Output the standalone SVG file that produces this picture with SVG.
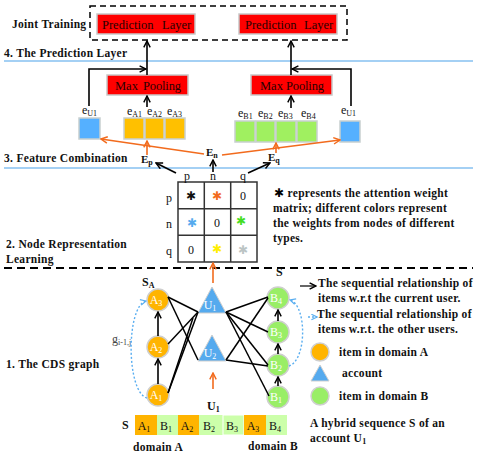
<svg xmlns="http://www.w3.org/2000/svg" width="479" height="455" viewBox="0 0 479 455">
<style>
text{font-family:"Liberation Serif","Times New Roman",serif;fill:#111}
.b{font-weight:bold;font-size:11px}
.h{font-weight:bold;font-size:11.5px;letter-spacing:0.3px}
.r{font-size:12px}
.p{font-size:12.5px;fill:#2a0000}
.w{font-size:12px;fill:#fff}
.sub{font-size:8px}
.red{fill:#FF0000;stroke:#C8C8C8;stroke-width:1.5}
.blk{stroke:#000;stroke-width:1.6;fill:none}
.org{stroke:#F26B1D;stroke-width:1.6;fill:none}
.dot{stroke:#5AAEF0;stroke-width:1.4;fill:none;stroke-dasharray:2,2}
.ca{fill:#FFB400;stroke:#CFCFCF;stroke-width:1.5}
.cb{fill:#99EE66;stroke:#CFCFCF;stroke-width:1.5}
.tu{fill:#55AAEE;stroke:#CFCFCF;stroke-width:1}
.ce{stroke:#C8D0D0;stroke-width:1.5}
.sep{stroke:#86C0F0;stroke-width:1.5}
.ast{font-family:"DejaVu Sans",sans-serif;font-size:12px}
</style>
<defs>
<marker id="ak" viewBox="0 0 10 10" refX="9" refY="5" markerWidth="8" markerHeight="8" markerUnits="userSpaceOnUse" orient="auto"><path d="M1,1 L9,5 L1,9" fill="none" stroke="#000" stroke-width="1.8"/></marker>
<marker id="ao" viewBox="0 0 10 10" refX="9" refY="5" markerWidth="8" markerHeight="8" markerUnits="userSpaceOnUse" orient="auto"><path d="M1,1 L9,5 L1,9" fill="none" stroke="#F26B1D" stroke-width="1.8"/></marker>
<marker id="ab" viewBox="0 0 10 10" refX="9" refY="5" markerWidth="7" markerHeight="7" markerUnits="userSpaceOnUse" orient="auto"><path d="M1,1 L9,5 L1,9" fill="none" stroke="#5AAEF0" stroke-width="1.6"/></marker>
</defs>

<!-- section labels and separators -->
<g id="sections">
<text class="h" x="12" y="28">Joint Training</text>
<text class="h" x="4" y="57">4. The Prediction Layer</text>
<line class="sep" x1="4" y1="61" x2="473" y2="61"/>
<text class="h" x="4" y="162">3. Feature Combination</text>
<line class="sep" x1="4" y1="168" x2="473" y2="168"/>
<text class="h" x="6" y="248">2. Node Representation</text>
<text class="h" x="6" y="263">Learning</text>
<line x1="4" y1="268" x2="473" y2="268" stroke="#000" stroke-width="2" stroke-dasharray="8,5"/>
<text class="h" x="6" y="368">1. The CDS graph</text>
</g>

<!-- joint training -->
<g id="joint">
<rect x="90" y="6" width="257" height="34" fill="none" stroke="#000" stroke-width="1.5" stroke-dasharray="6,4"/>
</g>
<g id="pred1"><rect class="red" x="97" y="14" width="98" height="20"/><text class="p" x="102" y="29">Prediction</text><text class="p" x="162" y="29">Layer</text></g>
<g id="pred2"><rect class="red" x="239" y="14" width="98" height="20"/><text class="p" x="245" y="29">Prediction</text><text class="p" x="304" y="29">Layer</text></g>

<g id="pool1"><rect class="red" x="107" y="75" width="81" height="20"/><text class="p" x="115" y="90">Max</text><text class="p" x="143" y="90" textLength="38" lengthAdjust="spacing">Pooling</text></g>
<g id="pool2"><rect class="red" x="251" y="75" width="81" height="20"/><text class="p" x="260" y="90">Max</text><text class="p" x="286" y="90" textLength="38" lengthAdjust="spacing">Pooling</text></g>

<!-- embeddings -->
<g id="eU1L"><rect class="ce" x="79" y="118" width="21" height="21" fill="#55B0FF"/><text class="r" x="82" y="114">e<tspan class="sub" dy="2">U1</tspan></text></g>
<g id="eA">
<rect class="ce" x="124" y="118" width="20" height="21" fill="#FFC000"/>
<rect class="ce" x="145" y="118" width="19" height="21" fill="#FFC000"/>
<rect class="ce" x="165" y="118" width="20" height="21" fill="#FFC000"/>
<text class="r" x="127" y="115">e<tspan class="sub" dy="2">A1</tspan></text>
<text class="r" x="147" y="115">e<tspan class="sub" dy="2">A2</tspan></text>
<text class="r" x="167" y="115">e<tspan class="sub" dy="2">A3</tspan></text>
</g>
<g id="eB">
<rect class="ce" x="235" y="121" width="20" height="21" fill="#A0F060"/>
<rect class="ce" x="256" y="121" width="19" height="21" fill="#A0F060"/>
<rect class="ce" x="276" y="121" width="20" height="21" fill="#A0F060"/>
<rect class="ce" x="297" y="121" width="20" height="21" fill="#A0F060"/>
<text class="r" x="238" y="117">e<tspan class="sub" dy="2">B1</tspan></text>
<text class="r" x="258" y="117">e<tspan class="sub" dy="2">B2</tspan></text>
<text class="r" x="278" y="117">e<tspan class="sub" dy="2">B3</tspan></text>
<text class="r" x="301" y="117">e<tspan class="sub" dy="2">B4</tspan></text>
</g>
<g id="eU1R"><rect class="ce" x="340" y="121" width="20" height="21" fill="#55B0FF"/><text class="r" x="341" y="114">e<tspan class="sub" dy="2">U1</tspan></text></g>

<g id="Elabels">
<text class="b" x="141" y="163">E<tspan class="sub" dy="2">p</tspan></text>
<text class="b" x="206" y="156">E<tspan class="sub" dy="2">n</tspan></text>
<text class="b" x="268" y="161">E<tspan class="sub" dy="2">q</tspan></text>
</g>

<!-- matrix -->
<g id="matrix">
<rect x="178" y="182" width="79" height="80" fill="#fff" stroke="#333" stroke-width="1.5"/>
<line x1="204.3" y1="182" x2="204.3" y2="262" stroke="#333" stroke-width="1.5"/>
<line x1="230.7" y1="182" x2="230.7" y2="262" stroke="#333" stroke-width="1.5"/>
<line x1="178" y1="208.7" x2="257" y2="208.7" stroke="#333" stroke-width="1.5"/>
<line x1="178" y1="235.3" x2="257" y2="235.3" stroke="#333" stroke-width="1.5"/>
<text class="r" x="187" y="180" text-anchor="middle">p</text>
<text class="r" x="213" y="180" text-anchor="middle">n</text>
<text class="r" x="243" y="180" text-anchor="middle">q</text>
<text class="r" x="169" y="202" text-anchor="middle">p</text>
<text class="r" x="169" y="228" text-anchor="middle">n</text>
<text class="r" x="169" y="255" text-anchor="middle">q</text>
<text class="ast" x="191" y="200" text-anchor="middle" fill="#000">✱</text>
<text class="ast" x="217" y="200" text-anchor="middle" style="fill:#F26B1D">✱</text>
<text class="r" x="243" y="200" text-anchor="middle">0</text>
<text class="ast" x="192" y="227" text-anchor="middle" style="fill:#55AAEE">✱</text>
<text class="r" x="217" y="227" text-anchor="middle">0</text>
<text class="ast" x="241" y="225" text-anchor="middle" style="fill:#44DD22">✱</text>
<text class="r" x="191" y="254" text-anchor="middle">0</text>
<text class="ast" x="217" y="253" text-anchor="middle" style="fill:#FFEE00">✱</text>
<text class="ast" x="243" y="254" text-anchor="middle" style="fill:#BBC4C4">✱</text>
</g>
<g id="matrixnote">
<text class="h" x="274" y="197"><tspan class="ast" style="fill:#000">✱</tspan> represents the attention weight</text>
<text class="h" x="273" y="212">matrix; different colors represent</text>
<text class="h" x="273" y="227">the weights from  nodes of different</text>
<text class="h" x="273" y="242">types.</text>
</g>

<!-- graph nodes -->
<text class="b" x="142" y="286" style="font-size:12px">S<tspan class="sub" dy="2" style="font-weight:bold">A</tspan></text>
<text class="b" x="276" y="276" style="font-size:12px">S</text>
<g id="A3"><circle class="ca" cx="158" cy="300" r="11"/><text class="w" x="156" y="304" text-anchor="middle">A<tspan class="sub" dy="2">3</tspan></text></g>
<g id="A2"><circle class="ca" cx="158" cy="347" r="11"/><text class="w" x="156" y="351" text-anchor="middle">A<tspan class="sub" dy="2">2</tspan></text></g>
<g id="A1"><circle class="ca" cx="158" cy="395" r="11"/><text class="w" x="156" y="399" text-anchor="middle">A<tspan class="sub" dy="2">1</tspan></text></g>
<g id="U1"><polygon class="tu" points="212,287 198,313 226,313"/><text class="w" x="210" y="309" text-anchor="middle">U<tspan class="sub" dy="2">1</tspan></text></g>
<g id="U2"><polygon class="tu" points="212,335 198,361 226,361"/><text class="w" x="210" y="357" text-anchor="middle">U<tspan class="sub" dy="2">2</tspan></text></g>
<g id="B4"><circle class="cb" cx="278" cy="298" r="11"/><text class="w" x="276" y="302" text-anchor="middle">B<tspan class="sub" dy="2">4</tspan></text></g>
<g id="B3"><circle class="cb" cx="278" cy="332" r="11"/><text class="w" x="276" y="336" text-anchor="middle">B<tspan class="sub" dy="2">3</tspan></text></g>
<g id="B2"><circle class="cb" cx="278" cy="365" r="11"/><text class="w" x="276" y="369" text-anchor="middle">B<tspan class="sub" dy="2">2</tspan></text></g>
<g id="B1"><circle class="cb" cx="278" cy="397" r="11"/><text class="w" x="276" y="401" text-anchor="middle">B<tspan class="sub" dy="2">1</tspan></text></g>
<text class="r" x="112" y="343" style="fill:#444">g<tspan class="sub" dy="2">i-1,j</tspan></text>
<text class="b" x="207" y="410" style="font-size:12px">U<tspan class="sub" dy="2">1</tspan></text>

<!-- sequence -->
<g id="sequence">
<text class="b" x="122" y="429" style="font-size:12px">S</text>
<rect x="135" y="415" width="22" height="20" fill="#FFB400"/>
<rect x="157" y="415" width="21" height="20" fill="#CCFFAA"/>
<rect x="178" y="415" width="21" height="20" fill="#FFB400"/>
<rect x="199" y="415" width="24" height="20" fill="#CCFFAA"/>
<rect x="223" y="415" width="21" height="20" fill="#CCFFAA" stroke="#fff" stroke-width="1"/>
<rect x="244" y="415" width="22" height="20" fill="#FFB400"/>
<rect x="266" y="415" width="21" height="20" fill="#CCFFAA"/>
<text class="r" x="144" y="430" text-anchor="middle">A<tspan class="sub" dy="2">1</tspan></text>
<text class="r" x="166" y="430" text-anchor="middle">B<tspan class="sub" dy="2">1</tspan></text>
<text class="r" x="187" y="430" text-anchor="middle">A<tspan class="sub" dy="2">2</tspan></text>
<text class="r" x="209" y="430" text-anchor="middle">B<tspan class="sub" dy="2">2</tspan></text>
<text class="r" x="232" y="430" text-anchor="middle">B<tspan class="sub" dy="2">3</tspan></text>
<text class="r" x="253" y="430" text-anchor="middle">A<tspan class="sub" dy="2">3</tspan></text>
<text class="r" x="275" y="430" text-anchor="middle">B<tspan class="sub" dy="2">4</tspan></text>
<text class="h" x="133" y="451">domain A</text>
<text class="h" x="248" y="450">domain B</text>
</g>

<!-- legend -->
<g id="legend">
<line class="blk" x1="300" y1="286" x2="316" y2="286" marker-end="url(#ak)" style="stroke-width:1.2"/>
<text class="h" x="318" y="287">The sequential relationship of</text>
<text class="h" x="318" y="302">items w.r.t the current user.</text>
<line class="dot" x1="308" y1="317" x2="317" y2="317" marker-end="url(#ab)"/>
<text class="h" x="317" y="318">The sequential relationship of</text>
<text class="h" x="318" y="333">items w.r.t. the other users.</text>
<circle class="ca" cx="320" cy="352" r="9"/>
<text class="h" x="339" y="356">item in domain A</text>
<polygon class="tu" points="320,365 311,381 329,381"/>
<text class="h" x="342" y="377">account</text>
<circle class="cb" cx="320" cy="396" r="9"/>
<text class="h" x="339" y="400">item in domain B</text>
<text class="h" x="310" y="427">A  hybrid sequence S of  an</text>
<text class="h" x="310" y="442">account U<tspan class="sub" dy="2">1</tspan></text>
</g>

<!-- connectors -->
<g id="connectors">
<line class="blk" x1="147" y1="75" x2="147" y2="41" marker-end="url(#ak)"/>
<line class="blk" x1="291" y1="75" x2="291" y2="41" marker-end="url(#ak)"/>
<polyline class="blk" points="89,106 89,69 146,69" marker-end="url(#ak)"/>
<polyline class="blk" points="351,106 351,69 292,69" marker-end="url(#ak)"/>
<line class="blk" x1="147" y1="107" x2="147" y2="96" marker-end="url(#ak)"/>
<line class="blk" x1="291" y1="108" x2="291" y2="96" marker-end="url(#ak)"/>
<line class="org" x1="147" y1="155" x2="147" y2="141" marker-end="url(#ao)"/>
<line class="org" x1="276" y1="153" x2="276" y2="143" marker-end="url(#ao)"/>
<line class="org" x1="204" y1="154" x2="101" y2="139" marker-end="url(#ao)"/>
<line class="org" x1="222" y1="155" x2="340" y2="140" marker-end="url(#ao)"/>
<line class="blk" x1="176" y1="173" x2="156" y2="163" marker-end="url(#ak)"/>
<line class="blk" x1="213" y1="172" x2="213" y2="160" marker-end="url(#ak)"/>
<line class="blk" x1="248" y1="173" x2="270" y2="163" marker-end="url(#ak)"/>
<line class="org" x1="213" y1="283" x2="213" y2="263" marker-end="url(#ao)"/>
<line class="org" x1="213" y1="389" x2="213" y2="373" marker-end="url(#ao)"/>
<line class="blk" x1="158" y1="384" x2="158" y2="359" marker-end="url(#ak)"/>
<line class="blk" x1="158" y1="336" x2="158" y2="312" marker-end="url(#ak)"/>
<line class="blk" x1="278" y1="386" x2="278" y2="377" marker-end="url(#ak)"/>
<line class="blk" x1="278" y1="354" x2="278" y2="344" marker-end="url(#ak)"/>
<line class="blk" x1="278" y1="321" x2="278" y2="310" marker-end="url(#ak)"/>
<g stroke="#000" stroke-width="1.5">
<line x1="168" y1="297" x2="198" y2="312"/>
<line x1="168" y1="297" x2="198" y2="360"/>
<line x1="168" y1="344" x2="198" y2="312"/>
<line x1="168" y1="393" x2="198" y2="312"/>
<line x1="168" y1="393" x2="193" y2="318"/>
<line x1="226" y1="312" x2="268" y2="297"/>
<line x1="226" y1="312" x2="268" y2="332"/>
<line x1="226" y1="312" x2="268" y2="365"/>
<line x1="226" y1="312" x2="269" y2="396"/>
<line x1="226" y1="360" x2="268" y2="298"/>
<line x1="226" y1="360" x2="268" y2="366"/>
</g>
<path class="dot" d="M147,398 C126,392 126,306 146,301" marker-end="url(#ab)"/>
<path class="dot" d="M289,366 C307,360 307,305 290,300" marker-end="url(#ab)"/>
</g>
</svg>
